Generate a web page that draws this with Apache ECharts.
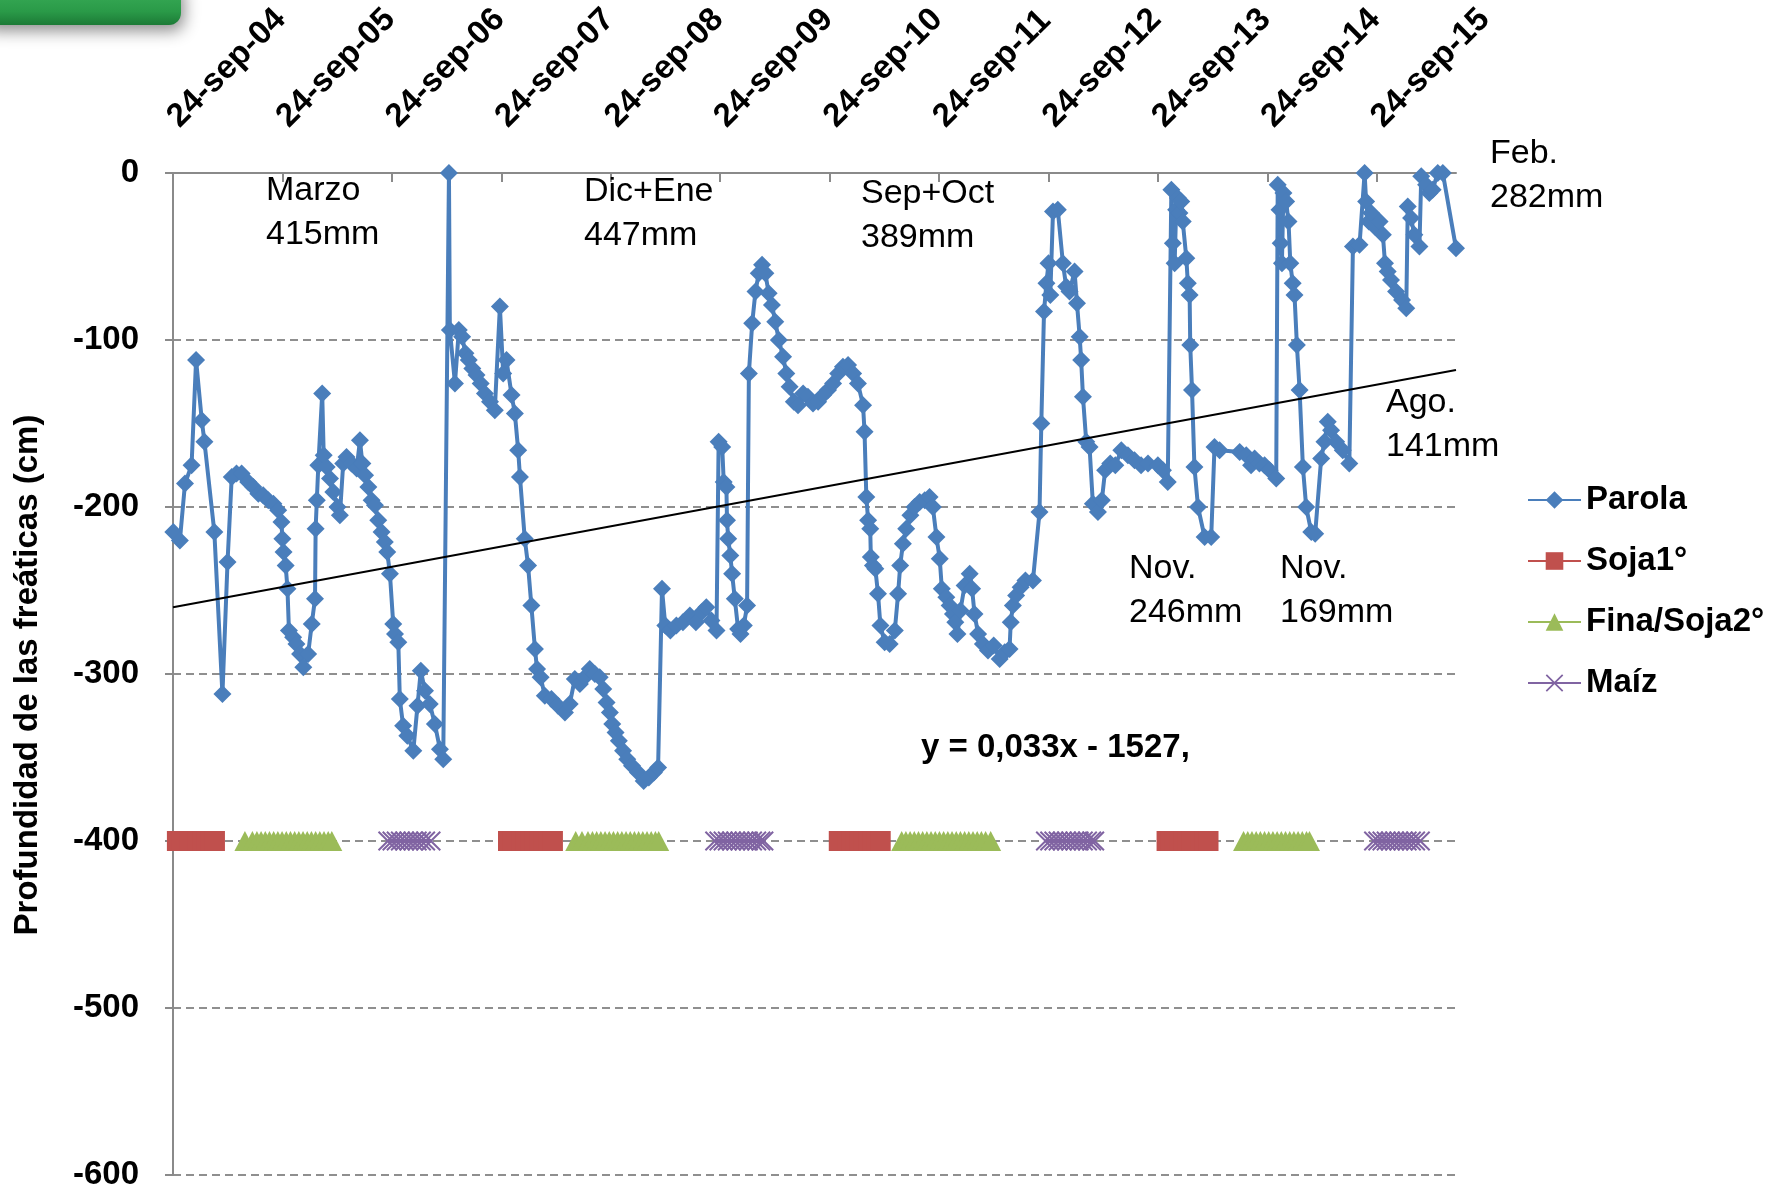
<!DOCTYPE html>
<html>
<head>
<meta charset="utf-8">
<script src="https://cdn.jsdelivr.net/npm/echarts@6/dist/echarts.min.js"></script>
<style>
html,body{margin:0;padding:0;background:#ffffff;}
#chart{width:1786px;height:1191px;}
</style>
</head>
<body>
<div id="chart"></div>
<script>
// ---- DATA ----
// x values: days since 24-sep-2004 ; y values: depth of water table (cm)
const yearLabels = ['24-sep-04','24-sep-05','24-sep-06','24-sep-07','24-sep-08','24-sep-09',
                    '24-sep-10','24-sep-11','24-sep-12','24-sep-13','24-sep-14','24-sep-15'];
const axisEndDay = 4282;

const parola = [
[1,-215],[23,-220],[40,-186],[62,-175],[77,-112],[96,-148],[105,-161],[138,-215],[165,-312],[182,-233],
[196,-182],[212,-180],[229,-180],[251,-185],[268,-188],[285,-192],[301,-193],[318,-196],[335,-198],[351,-202],
[362,-209],[365,-219],[369,-227],[376,-235],[382,-249],[387,-274],[401,-278],[412,-282],[424,-288],[435,-296],
[451,-288],[463,-270],[474,-255],[476,-213],[480,-196],[485,-175],[498,-132],[503,-169],[513,-176],[524,-183],
[535,-191],[549,-200],[557,-205],[568,-174],[579,-170],[596,-174],[613,-177],[624,-160],[632,-174],[641,-181],
[652,-188],[663,-196],[674,-199],[685,-208],[696,-215],[707,-221],[715,-227],[724,-240],[735,-270],[741,-276],
[752,-281],[757,-315],[768,-331],[782,-337],[802,-346],[816,-319],[827,-298],[841,-310],[857,-318],[874,-330],
[891,-345],[902,-351],[921,0],[924,-94],[941,-126],[954,-94],[965,-98],[976,-108],[987,-112],[999,-117],
[1013,-121],[1027,-126],[1041,-132],[1058,-137],[1074,-142],
[1091,-80],[1102,-120],[1113,-112],[1130,-133],[1141,-144],[1152,-166],[1158,-182],[1174,-219],[1185,-235],
[1196,-259],[1208,-285],[1215,-297],[1227,-302],[1241,-313],[1263,-315],[1285,-319],[1308,-323],[1324,-318],
[1341,-303],[1358,-306],[1374,-302],[1391,-297],[1408,-300],[1424,-302],[1436,-309],[1447,-317],[1458,-323],
[1466,-330],[1477,-335],[1488,-340],[1502,-346],[1516,-351],[1532,-355],[1552,-359],[1571,-364],[1588,-362],
[1605,-359],[1619,-356],[1632,-249],[1643,-271],[1660,-274],[1680,-271],[1702,-269],[1725,-265],[1745,-269],
[1764,-263],[1780,-260],[1797,-268],[1814,-274],[1821,-161],[1833,-164],[1838,-185],[1847,-188],[1849,-208],
[1853,-219],[1860,-229],[1866,-240],[1875,-255],[1886,-273],[1894,-276],[1905,-271],[1916,-259],[1922,-120],
[1933,-90],[1944,-71],[1955,-60],[1966,-55],[1977,-60],[1988,-72],[1999,-79],[2010,-89],[2022,-100],
[2036,-110],[2047,-120],[2058,-128],[2072,-137],[2086,-139],[2103,-132],[2119,-134],[2136,-138],[2153,-137],
[2170,-133],[2186,-130],
[2203,-126],[2220,-120],[2236,-116],[2253,-115],[2270,-120],[2286,-126],[2303,-139],[2308,-155],[2314,-194],
[2320,-208],[2327,-213],[2329,-230],[2336,-235],[2344,-237],[2353,-252],[2361,-271],[2375,-281],[2392,-282],
[2409,-274],[2420,-252],[2427,-235],[2436,-222],[2447,-213],[2461,-205],[2475,-200],[2492,-197],[2509,-196],
[2525,-194],[2536,-200],[2548,-218],[2559,-231],[2566,-249],[2581,-254],[2592,-259],[2603,-264],[2611,-269],
[2618,-276],[2628,-262],[2642,-247],[2659,-240],[2667,-249],[2675,-264],[2687,-276],[2703,-282],[2720,-286],
[2739,-283],[2759,-291],[2776,-287],[2792,-285],[2796,-269],[2803,-259],[2814,-253],[2829,-248],[2845,-244],
[2870,-244],[2892,-203],[2898,-150],[2907,-83],[2915,-66],[2922,-54],[2928,-73],[2937,-23],[2953,-22],
[2970,-54],[2981,-68],[2992,-71],[3009,-59],[3017,-78],[3026,-98],[3031,-112],[3037,-134],[3048,-161],
[3059,-164],[3070,-198],[3087,-203],[3100,-196],[3111,-178],[3128,-174],[3145,-175],[3165,-166],[3187,-169],
[3209,-172],[3231,-175],[3254,-174],
[3287,-175],[3304,-178],[3320,-185],[3332,-10],[3337,-42],[3343,-54],[3348,-22],[3354,-15],[3359,-24],
[3365,-17],[3370,-29],[3382,-51],[3387,-66],[3393,-73],[3395,-103],[3401,-130],[3409,-176],[3421,-200],
[3443,-218],[3465,-218],[3476,-164],[3493,-166],[3560,-167],[3582,-169],[3598,-175],[3610,-171],[3626,-174],
[3643,-175],[3660,-178],[3682,-183],[3687,-7],[3693,-22],[3697,-42],[3701,-54],[3706,-12],[3715,-17],
[3723,-29],[3729,-54],[3737,-66],[3743,-73],[3751,-103],[3760,-130],[3771,-176],[3782,-200],[3799,-215],
[3812,-216],[3832,-171],[3843,-161],[3854,-149],[3865,-154],[3882,-161],[3904,-166],[3926,-174],[3938,-44],
[3960,-43],[3977,0],[3982,-17],[3991,-29],[3999,-24],[4010,-32],[4027,-29],[4038,-37],[4045,-54],
[4054,-59],[4065,-64],[4082,-71],[4102,-76],[4116,-81],[4121,-20],[4132,-27],[4143,-37],[4160,-44],
[4166,-2],[4182,-7],[4193,-12],[4204,-10],[4221,0],[4238,0],[4282,-45]
];

const cropDepth = -400;
const soja1Days = [
  [13,27,41,55,69,83,97,111,125,140],
  [1118,1133,1148,1163,1178,1193,1208,1223,1238,1253,1268],
  [2222,2236,2250,2264,2278,2292,2306,2320,2334,2348,2362],
  [3316,3330,3344,3358,3372,3386,3400,3414,3428,3442,3456]
];
const finaSoja2Days = [
  [240,265,280,294,308,322,336,350,364,378,392,406,420,434,448,462,476,490,504,518,530],
  [1344,1365,1385,1400,1414,1428,1442,1456,1470,1484,1498,1512,1526,1540,1554,1568,1582,1596,1610,1621],
  [2432,2446,2460,2474,2488,2502,2516,2530,2544,2558,2572,2586,2600,2614,2628,2642,2656,2670,2684,2698,2712,2729],
  [3573,3587,3601,3615,3629,3643,3657,3671,3685,3699,3713,3727,3741,3755,3769,3783,3793]
];
const maizDays = [
  [717,731,745,759,773,787,801,815,829,843,861],
  [1808,1822,1836,1850,1864,1878,1892,1906,1920,1934,1948,1962,1972],
  [2912,2926,2940,2954,2968,2982,2996,3010,3024,3038,3052,3066,3076],
  [4007,4021,4035,4049,4063,4077,4091,4105,4119,4133,4147,4163]
];

const trendDay = [0, 4282];
const trendDepth = [-260, -118];

const seriesNames = ['Parola','Soja1°','Fina/Soja2°','Maíz'];
const rainNotes = ['Marzo\n415mm','Dic+Ene\n447mm','Sep+Oct\n389mm','Feb.\n282mm','Ago.\n141mm','Nov.\n246mm','Nov.\n169mm'];
const equationText = 'y = 0,033x - 1527,';
const yTitle = 'Profundidad de las freáticas (cm)';

// ---- BUILD ----
const FONT = '"Liberation Sans", Arial, sans-serif';
const tickDays = yearLabels.map((_, i) => i * 365.25);

function bandData(bands) {
  const out = [];
  bands.forEach((b, i) => {
    if (i) out.push([b[0] - 1, '-']);
    b.forEach(d => out.push([d, cropDepth]));
  });
  return out;
}

const xSymbol = 'path://M0,0.7 L0.7,0 L5,4.3 L9.3,0 L10,0.7 L5.7,5 L10,9.3 L9.3,10 L5,5.7 L0.7,10 L0,9.3 L4.3,5 Z';

const notePos = [[266,169],[584,170],[861,172],[1490,132],[1386,381],[1129,547],[1280,547]];
const graphics = [
  {
    type: 'rect', z: 100,
    shape: {x: -20, y: -20, width: 201, height: 45, r: 12},
    style: {
      fill: new echarts.graphic.LinearGradient(0, 0, 0, 1, [
        {offset: 0, color: '#3fb45e'}, {offset: 0.7, color: '#2a9a48'}, {offset: 1, color: '#1c7a36'}
      ]),
      shadowBlur: 16, shadowColor: 'rgba(0,0,0,0.45)', shadowOffsetX: 3, shadowOffsetY: 6
    }
  },
  {
    type: 'text', x: 28, y: 675, rotation: Math.PI / 2, z: 100,
    style: {x: 0, y: 0, text: yTitle, font: 'bold 33px ' + FONT, fill: '#000',
            align: 'center', verticalAlign: 'middle'}
  },
  {
    type: 'text', z: 100,
    style: {x: 921, y: 748, text: equationText, font: 'bold 33px ' + FONT, fill: '#000',
            align: 'left', verticalAlign: 'middle'}
  }
];
rainNotes.forEach((t, i) => {
  graphics.push({
    type: 'text', z: 100,
    style: {x: notePos[i][0], y: notePos[i][1], text: t, font: '34px ' + FONT, fill: '#000',
            lineHeight: 44, align: 'left', verticalAlign: 'top'}
  });
});

const chart = echarts.init(document.getElementById('chart'), null, {renderer: 'canvas'});
const option = {
  animation: false,
  backgroundColor: '#ffffff',
  textStyle: {fontFamily: FONT},
  grid: {left: 173, right: 330, top: 173, bottom: 16, containLabel: false, outerBoundsMode: 'none'},
  legend: {
    data: seriesNames,
    orient: 'vertical',
    left: 1522, top: 477,
    itemWidth: 53, itemHeight: 22, itemGap: 25,
    selectedMode: false,
    textStyle: {fontFamily: FONT, fontWeight: 'bold', fontSize: 33, color: '#000', lineHeight: 36}
  },
  xAxis: {
    type: 'value', position: 'top', min: 0, max: axisEndDay,
    axisLine: {show: true, onZero: false, lineStyle: {color: '#8a8a8a', width: 2}},
    axisTick: {show: true, inside: true, length: 9, customValues: tickDays,
               lineStyle: {color: '#8a8a8a', width: 2}},
    axisLabel: {
      customValues: tickDays, rotate: -45, margin: 51,
      align: 'left', verticalAlign: 'middle',
      fontFamily: FONT, fontWeight: 'bold', fontSize: 33, color: '#000',
      formatter: v => yearLabels[Math.round(v / 365.25)] || ''
    },
    splitLine: {show: false}
  },
  yAxis: {
    type: 'value', min: -600, max: 0, interval: 100,
    axisLine: {show: true, lineStyle: {color: '#8a8a8a', width: 2}},
    axisTick: {show: true, length: 8, lineStyle: {color: '#8a8a8a', width: 2}},
    axisLabel: {margin: 34, fontFamily: FONT, fontWeight: 'bold', fontSize: 33, color: '#000'},
    splitLine: {show: true, lineStyle: {color: '#8f8f8f', width: 2, type: [8, 5]}}
  },
  series: [
    {
      name: 'Parola', type: 'line', data: parola, clip: false,
      symbol: 'diamond', symbolSize: 18,
      lineStyle: {color: '#4A7EBB', width: 4},
      itemStyle: {color: '#4A7EBB'},
      emphasis: {disabled: true}, z: 2
    },
    {
      name: 'Soja1°', type: 'line', data: bandData(soja1Days), connectNulls: false,
      symbol: 'rect', symbolSize: 20,
      lineStyle: {color: '#C0504D', width: 4},
      itemStyle: {color: '#C0504D'},
      emphasis: {disabled: true}, z: 3
    },
    {
      name: 'Fina/Soja2°', type: 'line', data: bandData(finaSoja2Days), connectNulls: false,
      symbol: 'triangle', symbolSize: [21, 20],
      lineStyle: {color: '#9BBB59', width: 4},
      itemStyle: {color: '#9BBB59'},
      emphasis: {disabled: true}, z: 3
    },
    {
      name: 'Maíz', type: 'line', data: bandData(maizDays), connectNulls: false,
      symbol: xSymbol, symbolSize: 20,
      lineStyle: {color: '#8064A2', width: 4},
      itemStyle: {color: '#8064A2'},
      emphasis: {disabled: true}, z: 3
    },
    {
      name: 'trend', type: 'line', silent: true, showSymbol: false, symbol: 'none',
      data: trendDay.map((d, i) => [d, trendDepth[i]]),
      lineStyle: {color: '#000', width: 2},
      emphasis: {disabled: true}, z: 5
    }
  ],
  graphic: graphics
};
chart.setOption(option);
</script>
</body>
</html>
